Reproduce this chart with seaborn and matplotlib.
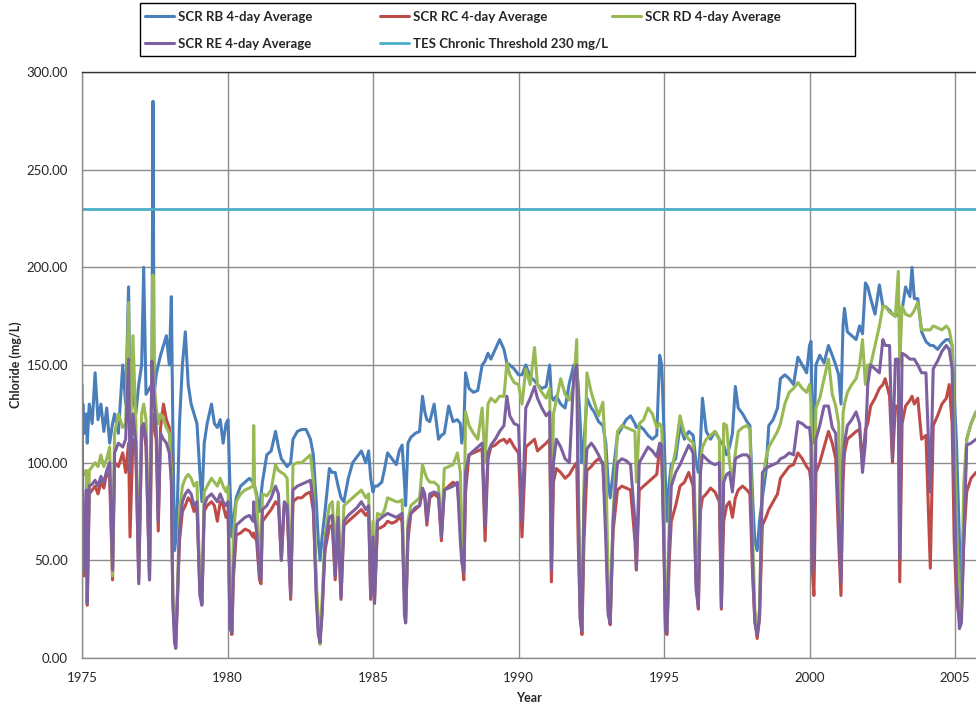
import matplotlib
matplotlib.use("Agg")
import matplotlib.pyplot as plt
import seaborn as sns
import pandas as pd
from matplotlib.patches import Rectangle
from matplotlib.ticker import FormatStrFormatter, MultipleLocator

# ---------------- data ----------------
YEARS = [
    1975.00, 1975.03, 1975.08, 1975.15, 1975.18, 1975.25, 1975.35, 1975.45, 1975.55, 1975.65, 1975.75, 1975.85, 1975.95,
    1976.05, 1976.12, 1976.25, 1976.40, 1976.50, 1976.60, 1976.65, 1976.75, 1976.85, 1976.95,
    1977.05, 1977.12, 1977.20, 1977.32, 1977.40, 1977.44, 1977.48, 1977.55, 1977.62, 1977.70, 1977.80, 1977.90,
    1978.00, 1978.07, 1978.12, 1978.18, 1978.22, 1978.28, 1978.35, 1978.45, 1978.55, 1978.65, 1978.75, 1978.85, 1978.95,
    1979.05, 1979.12, 1979.20, 1979.30, 1979.45, 1979.55, 1979.65, 1979.75, 1979.85, 1979.95,
    1980.02, 1980.08, 1980.15, 1980.20, 1980.30, 1980.45, 1980.60, 1980.75, 1980.88, 1980.90, 1980.93,
    1981.00, 1981.10, 1981.15, 1981.20, 1981.35, 1981.50, 1981.65, 1981.75, 1981.85, 1981.95,
    1982.05, 1982.17, 1982.25, 1982.40, 1982.55, 1982.70, 1982.85, 1982.95,
    1983.05, 1983.12, 1983.18, 1983.25, 1983.35, 1983.50, 1983.60, 1983.70, 1983.80, 1983.90,
    1984.00, 1984.15, 1984.30, 1984.45, 1984.60, 1984.75, 1984.85, 1984.92,
    1985.00, 1985.05, 1985.15, 1985.30, 1985.40, 1985.50, 1985.65, 1985.80, 1985.90,
    1986.00, 1986.08, 1986.12, 1986.20, 1986.30, 1986.45, 1986.60, 1986.70, 1986.78, 1986.85, 1986.95,
    1987.10, 1987.25, 1987.35, 1987.45, 1987.60, 1987.75, 1987.90,
    1988.00, 1988.05, 1988.12, 1988.18, 1988.30, 1988.45, 1988.60, 1988.75, 1988.85, 1988.95,
    1989.05, 1989.20, 1989.35, 1989.50, 1989.60, 1989.70, 1989.85,
    1990.00, 1990.12, 1990.25, 1990.40, 1990.55, 1990.65, 1990.80, 1990.95,
    1991.07, 1991.13, 1991.20, 1991.30, 1991.45, 1991.60, 1991.75, 1991.90,
    1992.00, 1992.05, 1992.12, 1992.18, 1992.25, 1992.35, 1992.50, 1992.60, 1992.75, 1992.90,
    1993.00, 1993.08, 1993.15, 1993.25, 1993.40, 1993.55, 1993.70, 1993.85,
    1994.00, 1994.05, 1994.15, 1994.30, 1994.45, 1994.60, 1994.75, 1994.85, 1994.92,
    1995.00, 1995.05, 1995.10, 1995.18, 1995.25, 1995.40, 1995.55, 1995.70, 1995.85,
    1996.00, 1996.10, 1996.18, 1996.25, 1996.32, 1996.45, 1996.60, 1996.75, 1996.90, 1996.97,
    1997.05, 1997.15, 1997.25, 1997.35, 1997.45, 1997.55, 1997.70, 1997.85, 1997.95,
    1998.05, 1998.12, 1998.20, 1998.28, 1998.38, 1998.50, 1998.60, 1998.75, 1998.90,
    1999.00, 1999.15, 1999.30, 1999.45, 1999.60, 1999.75, 1999.90,
    2000.00, 2000.05, 2000.10, 2000.15, 2000.22, 2000.35, 2000.50, 2000.65, 2000.78, 2000.90,
    2001.00, 2001.08, 2001.15, 2001.20, 2001.30, 2001.45, 2001.60, 2001.72, 2001.82, 2001.92,
    2002.00, 2002.10, 2002.25, 2002.40, 2002.52, 2002.60, 2002.75, 2002.85, 2002.95,
    2003.05, 2003.10, 2003.18, 2003.30, 2003.45, 2003.52, 2003.60, 2003.72, 2003.85,
    2004.00, 2004.15, 2004.25, 2004.40, 2004.55, 2004.70, 2004.80, 2004.90, 2004.97,
    2005.05, 2005.15, 2005.22, 2005.30, 2005.40, 2005.55, 2005.72,
]

SCR_RB = [
    120, 130, 115, 125, 110, 130, 120, 146, 122, 130, 116, 128, 110,
    120, 125, 115, 150, 130, 190, 128, 135, 125, 140,
    150, 200, 135, 138, 140, 285, 135, 145, 150, 155, 160, 165,
    150, 185, 120, 55, 60, 80, 120, 150, 167, 140, 130, 125, 120,
    95, 80, 110, 120, 130, 120, 118, 122, 110, 120,
    122, 90, 62, 70, 82, 88, 90, 92, 90, 90, 88,
    84, 75, 83, 90, 104, 106, 116, 108, 102, 100,
    98, 100, 112, 116, 117, 117, 112, 104,
    80, 60, 50, 62, 75, 97, 95, 95, 88, 82,
    80, 92, 100, 103, 106, 100, 106, 92,
    85, 88, 88, 90, 97, 105, 102, 99, 106,
    109, 90, 78, 110, 113, 115, 116, 134, 126, 122, 121,
    130, 112, 114, 115, 129, 121, 122,
    120, 110, 118, 146, 138, 136, 137, 150, 152, 156,
    153, 158, 163, 158, 151, 150, 148,
    145, 145, 150, 144, 142, 140, 138, 139,
    150, 134, 132, 134, 130, 128, 141, 150,
    148, 140, 120, 100, 110, 133, 128, 126, 121, 119,
    110, 90, 82, 95, 114, 118, 122, 124,
    120, 118, 119, 117, 114, 112, 114, 155, 150,
    115, 90, 70, 90, 99, 102, 119, 112, 116,
    114, 100, 95, 110, 133, 116, 112, 116, 112, 110,
    109, 104, 108, 115, 139, 128, 125, 121, 119,
    80, 60, 55, 70, 82, 95, 119, 122, 128,
    143, 145, 143, 140, 154, 150, 146,
    160, 162, 119, 110, 150, 155, 151, 160, 155, 150,
    145, 130, 170, 179, 167, 165, 163, 170, 166, 192,
    190, 184, 176, 191, 180, 180, 178, 176, 175,
    176, 177, 178, 190, 185, 200, 184, 184, 167,
    162, 160, 160, 158, 161, 163, 163, 160, 135,
    110, 60, 30, 70, 112, 120, 126,
]

SCR_RC = [
    85, 70, 42, 82, 27, 84, 86, 88, 84, 90, 87, 95, 92,
    40, 100, 98, 105, 95, 110, 62, 112, 105, 40,
    115, 118, 108, 40, 120, 125, 118, 112, 65, 118, 130, 122,
    118, 100, 30, 15, 5, 30, 60, 75, 78, 82, 80, 75, 78,
    35, 28, 75, 78, 80, 78, 70, 80, 78, 72,
    75, 20, 12, 40, 63, 64, 66, 65, 62, 64, 62,
    60, 40, 38, 70, 73, 76, 80, 78, 50, 78,
    76, 30, 80, 82, 82, 84, 85, 75,
    35, 15, 10, 25, 55, 67, 68, 40, 70, 30,
    68, 70, 72, 74, 76, 73, 75, 30,
    60, 28, 66, 67, 68, 70, 69, 70, 72,
    70, 30, 18, 60, 74, 76, 78, 85, 82, 68, 82,
    84, 82, 60, 86, 88, 90, 88,
    70, 52, 40, 85, 104, 105, 106, 107, 60, 102,
    108, 109, 111, 112, 110, 112, 108,
    105, 62, 108, 110, 112, 106, 108, 110,
    112, 39, 90, 97, 95, 92, 94, 98,
    100, 60, 20, 12, 60, 96, 98, 100, 102, 100,
    70, 25, 17, 65, 86, 88, 87, 86,
    60, 45, 86, 88, 90, 92, 94, 108, 105,
    60, 14, 12, 50, 70, 78, 88, 90, 95,
    88, 40, 25, 75, 82, 84, 87, 85, 80, 25,
    70, 78, 80, 72, 82, 86, 88, 86, 84,
    40, 20, 10, 20, 68, 72, 76, 80, 84,
    92, 95, 98, 99, 105, 102, 98,
    96, 90, 44, 32, 95, 100, 108, 116, 110, 102,
    60, 32, 90, 105, 112, 114, 116, 117, 100, 117,
    120, 129, 133, 138, 140, 143, 134, 100, 129,
    129, 39, 120, 129, 132, 134, 130, 133, 112,
    114, 46, 119, 124, 130, 133, 140, 120, 60,
    30, 20, 24, 60, 85, 92, 95,
]

SCR_RD = [
    100, 95, 94, 96, 28, 96, 98, 100, 98, 104, 98, 102, 108,
    42, 115, 125, 118, 120, 182, 100, 165, 120, 45,
    125, 130, 122, 42, 150, 196, 140, 128, 120, 125, 122, 118,
    115, 95, 32, 18, 10, 35, 75, 88, 92, 94, 92, 88, 90,
    38, 30, 85, 88, 92, 90, 88, 92, 88, 85,
    88, 25, 14, 62, 80, 84, 86, 87, 88, 119, 88,
    82, 52, 50, 84, 83, 86, 99, 96, 95, 94,
    92, 35, 99, 100, 100, 102, 104, 90,
    40, 20, 7, 30, 62, 78, 80, 55, 80, 40,
    78, 80, 82, 84, 86, 82, 84, 40,
    70, 35, 74, 73, 76, 82, 81, 80, 80,
    81, 35, 20, 70, 78, 80, 82, 99, 95, 92, 90,
    90, 88, 65, 97, 98, 99, 105,
    95, 60, 55, 126, 119, 115, 112, 128, 100, 130,
    133, 131, 134, 134, 151, 145, 141,
    140, 130, 148, 140, 159, 140, 136, 133,
    138, 60, 125, 132, 143, 135, 132, 140,
    163, 100, 30, 18, 90, 146, 136, 131, 124, 131,
    100, 40, 20, 74, 116, 119, 118, 117,
    116, 90, 120, 122, 128, 125, 118, 120, 118,
    80, 20, 15, 70, 95, 107, 124, 115, 112,
    110, 60, 30, 100, 108, 112, 114, 116, 112, 30,
    120, 119, 100, 90, 105, 116, 118, 119, 117,
    60, 25, 14, 25, 90, 102, 108, 112, 116,
    120, 130, 136, 138, 141, 138, 136,
    140, 130, 80, 70, 128, 133, 143, 153, 135, 129,
    120, 60, 125, 130, 136, 140, 143, 150, 163, 140,
    150, 150, 160, 170, 180, 180, 177, 176, 175,
    198, 150, 180, 176, 175, 176, 178, 182, 168,
    168, 168, 170, 169, 168, 170, 168, 160, 120,
    70, 25, 27, 90, 112, 120, 126,
]

SCR_RE = [
    140, 72, 45, 86, 28, 88, 89, 91, 88, 93, 90, 96, 100,
    45, 105, 110, 108, 112, 153, 95, 125, 110, 38,
    118, 120, 112, 40, 152, 145, 130, 118, 70, 115, 112, 110,
    105, 90, 28, 8, 5, 30, 65, 80, 84, 86, 84, 78, 80,
    32, 27, 78, 82, 84, 82, 80, 84, 80, 78,
    80, 15, 13, 45, 68, 70, 72, 73, 70, 80, 72,
    65, 42, 40, 76, 78, 82, 88, 84, 50, 80,
    78, 32, 86, 88, 89, 90, 91, 80,
    30, 12, 8, 22, 58, 72, 73, 42, 72, 31,
    70, 73, 75, 77, 80, 76, 78, 31,
    62, 28, 70, 72, 73, 74, 73, 72, 73,
    74, 22, 18, 66, 74, 77, 78, 87, 84, 70, 84,
    85, 84, 62, 86, 87, 88, 90,
    60, 49, 44, 95, 104, 106, 108, 110, 68, 105,
    109, 112, 116, 119, 134, 124, 120,
    119, 70, 128, 133, 139, 133, 128, 124,
    126, 45, 100, 112, 108, 102, 100, 145,
    150, 80, 20, 14, 80, 107, 110, 108, 104, 99,
    60, 22, 18, 70, 100, 102, 101, 99,
    70, 46, 100, 104, 108, 106, 103, 110, 109,
    50, 14, 13, 60, 88, 95, 99, 104, 109,
    105, 35, 26, 95, 104, 102, 100, 99, 100, 26,
    90, 94, 95, 85, 102, 103, 104, 104, 102,
    45, 18, 12, 20, 95, 97, 98, 99, 100,
    102, 103, 105, 104, 121, 120, 118,
    118, 110, 44, 60, 112, 119, 129, 129, 118, 115,
    70, 39, 100, 110, 119, 122, 126, 120, 95, 110,
    140, 150, 148, 146, 163, 160, 160, 102, 153,
    153, 51, 156, 155, 153, 153, 153, 150, 146,
    146, 85, 148, 152, 157, 160, 158, 148, 90,
    40, 15, 18, 60, 109, 110, 112,
]

THRESHOLD = 230
SERIES_NAMES = ["SCR RB 4-day Average", "SCR RC 4-day Average",
                "SCR RD 4-day Average", "SCR RE 4-day Average"]
THRESHOLD_NAME = "TES Chronic Threshold 230 mg/L"
X_TICKS = [1975, 1980, 1985, 1990, 1995, 2000, 2005]

# ---------------- styling ----------------
sns.set_style("white")
FONT = ["Lato", "DejaVu Sans"]
plt.rcParams["font.family"] = FONT

COLORS = ["#4A7EBB", "#BE4B48", "#98B954", "#7D60A0"]
THR_COLOR = "#4BACC6"
GRID = "#8C8C8C"
TXT = "#262626"
W, H = 976, 711

fig = plt.figure(figsize=(9.76, 7.11), dpi=100)
ax = fig.add_axes([82 / W, 1 - 658 / H, 1 - 82 / W, (658 - 72) / H])

handles = []
for name, vals, col in zip(SERIES_NAMES, [SCR_RB, SCR_RC, SCR_RD, SCR_RE], COLORS):
    df = pd.DataFrame({"Year": YEARS, "Chloride": vals})
    sns.lineplot(data=df, x="Year", y="Chloride", ax=ax, color=col, lw=2.2,
                 estimator=None, sort=False, label=name, legend=False)
    handles.append(ax.lines[-1])

thr_line = ax.axhline(THRESHOLD, color=THR_COLOR, lw=2.0, label=THRESHOLD_NAME)

ax.set_xlim(1975, 2005.72)
ax.set_ylim(0, 300)
ax.set_xticks(X_TICKS)
ax.yaxis.set_major_locator(MultipleLocator(50))
ax.yaxis.set_major_formatter(FormatStrFormatter("%.2f"))
ax.grid(True, color=GRID, lw=1.0)
ax.set_axisbelow(True)
for s in ["left", "bottom"]:
    ax.spines[s].set_color(GRID)
    ax.spines[s].set_linewidth(1.0)
ax.spines["top"].set_color("#333333")
ax.spines["top"].set_linewidth(1.0)
ax.spines["right"].set_visible(False)
ax.tick_params(axis="both", labelsize=9.5, labelcolor=TXT, length=4,
               direction="out", color=GRID, width=1.0, pad=6)

ax.set_xlabel("Year", fontsize=9, fontweight="bold", color=TXT, labelpad=6)
ax.set_ylabel("Chloride (mg/L)", fontsize=9, fontweight="bold", color=TXT, labelpad=3)

# legend: frame box + three independently placed columns
fig.add_artist(Rectangle((140 / W, 1 - 56 / H), 715 / W, 53 / H,
                         transform=fig.transFigure, facecolor="white",
                         edgecolor="black", lw=1.0, zorder=1))
columns = [
    ([handles[0], handles[3]], [SERIES_NAMES[0], SERIES_NAMES[3]], 145),
    ([handles[1], thr_line], [SERIES_NAMES[1], THRESHOLD_NAME], 380),
    ([handles[2]], [SERIES_NAMES[2]], 612),
]
for hs, ls, x0 in columns:
    leg = fig.legend(hs, ls, ncol=1, loc="upper left",
                     bbox_to_anchor=(x0 / W, 1 - 11 / H),
                     frameon=False, handlelength=2.2, handletextpad=0.3,
                     borderpad=0.0, borderaxespad=0.0, labelspacing=1.1,
                     prop={"family": FONT, "weight": "bold", "size": 9.5})
    leg.set_zorder(5)
    for t in leg.get_texts():
        t.set_color(TXT)

fig.savefig("out.png", dpi=100)
